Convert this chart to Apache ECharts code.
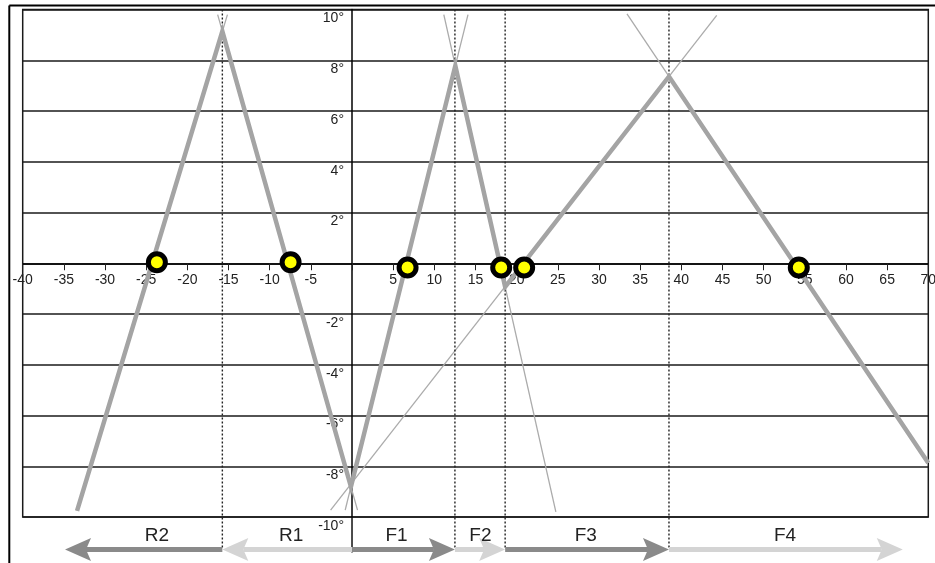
<!DOCTYPE html>
<html>
<head>
<meta charset="utf-8">
<script src="https://cdn.jsdelivr.net/npm/echarts@6/dist/echarts.min.js"></script>
<style>
  html, body { margin: 0; padding: 0; background: #fff; }
  #chart { width: 935px; height: 563px; }
</style>
</head>
<body>
<div id="chart"></div>
<script>
// Thick trace: the followed ray path through each zone (x, angle in degrees)
const pathPoints = [
  [-33.4, -9.76], [-15.75, 9.14], [-0.13, -8.81], [12.55, 7.78],
  [18.6, -0.93], [38.5, 7.36], [70, -7.87]
];
// Thin guide lines: the full straight lines the trace segments lie on
const thinLines = [
  [[-33.4, -9.76], [-15.13, 9.8]],
  [[-16.32, 9.8], [0.67, -9.73]],
  [[-0.83, -9.73], [14.09, 9.8]],
  [[11.15, 9.8], [24.76, -9.8]],
  [[-2.6, -9.73], [44.3, 9.77]],
  [[33.4, 9.83], [70, -7.87]]
];
// Zero crossings marked with yellow dots
const crossings = [
  [-23.7, 0.04], [-7.46, 0.04], [6.75, -0.17],
  [18.12, -0.17], [20.91, -0.17], [54.27, -0.17]
];
// Zone boundaries (dotted verticals)
const boundaries = [-15.75, 12.5, 18.6, 38.5];
// Zone arrows along the bottom
const zoneNames = ['R2', 'R1', 'F1', 'F2', 'F3', 'F4'];
const zoneFrom = [-15.75, 0, 0, 12.5, 18.6, 38.5];
const zoneTo = [-34.86, -15.75, 12.5, 18.6, 38.5, 66.9];
const zoneLabelAt = [-23.7, -7.4, 5.4, 15.6, 28.4, 52.6];
const zoneShade = ['dark', 'light', 'dark', 'light', 'dark', 'light'];

const X_MIN = -40, X_MAX = 70, X_STEP = 5;
const Y_MIN = -10, Y_MAX = 10, Y_STEP = 2;
const ARROW_Y = -11.28, LABEL_Y = -10.72, BELOW_Y = -11.25, AXIS_EXT_Y = -11.4;

const FONT = '"Liberation Sans", Arial, sans-serif';
const INK = '#1a1a1a';
const shadeColor = { dark: '#8a8a8a', light: '#d4d4d4' };

// plot box
const W = 935, H = 563;
const G = { left: 22.7, right: 6.7, top: 9.5, bottom: 46 };
const plotW = W - G.left - G.right, plotH = H - G.top - G.bottom;
// shift the axes from the box edges onto the zero lines
const xAxisShift = -plotH * (0 - Y_MIN) / (Y_MAX - Y_MIN);
const yAxisShift = -plotW * (0 - X_MIN) / (X_MAX - X_MIN);

const chart = echarts.init(document.getElementById('chart'), null, { renderer: 'canvas', width: W, height: H });

const series = [];

// thin guide lines
thinLines.forEach(function (seg, i) {
  series.push({
    name: 'guide' + i, type: 'line', data: seg, symbol: 'none', silent: true,
    lineStyle: { color: '#ababab', width: 1.3 }, z: 2
  });
});

// dotted zone boundaries, running down through the arrow row
boundaries.forEach(function (x, i) {
  series.push({
    name: 'boundary' + i, type: 'line', data: [[x, Y_MAX], [x, BELOW_Y]], symbol: 'none',
    silent: true, clip: false,
    lineStyle: { color: '#222', width: 1.4, type: [2, 2] }, z: 3
  });
});

// vertical axis carried down into the arrow row
series.push({
  name: 'axisExt', type: 'line', data: [[0, Y_MIN], [0, AXIS_EXT_Y]], symbol: 'none',
  silent: true, clip: false, lineStyle: { color: '#111', width: 1.5 }, z: 3
});

// thick trace
series.push({
  name: 'trace', type: 'line', data: pathPoints, symbol: 'none', silent: true,
  lineStyle: { color: '#a4a4a4', width: 4.5, join: 'miter' }, z: 4
});

// zero crossings
series.push({
  name: 'crossings', type: 'scatter', data: crossings, symbol: 'circle', symbolSize: 17,
  itemStyle: { color: '#ffff00', borderColor: '#000', borderWidth: 5, opacity: 1 }, z: 6
});

// zone arrows with their names
series.push({
  name: 'zones', type: 'custom', clip: false, silent: true, z: 5,
  data: zoneFrom.map(function (f, i) { return [f, zoneTo[i], zoneLabelAt[i], i]; }),
  renderItem: function (params, api) {
    const i = api.value(3);
    const a = api.coord([api.value(0), ARROW_Y]);
    const b = api.coord([api.value(1), ARROW_Y]);
    const t = api.coord([api.value(2), LABEL_Y]);
    const dir = b[0] > a[0] ? 1 : -1;
    const L = 26, HH = 23, notch = 5;
    const color = shadeColor[zoneShade[i]];
    return {
      type: 'group',
      children: [
        { type: 'line',
          shape: { x1: a[0], y1: a[1], x2: b[0] - dir * (L - notch), y2: b[1] },
          style: { stroke: color, lineWidth: 5 } },
        { type: 'polygon',
          shape: { points: [[b[0], b[1]], [b[0] - dir * L, b[1] - HH / 2],
                            [b[0] - dir * (L - notch), b[1]], [b[0] - dir * L, b[1] + HH / 2]] },
          style: { fill: color } },
        { type: 'text',
          style: { text: zoneNames[i], x: t[0], y: t[1], align: 'center', verticalAlign: 'middle',
                   fontSize: 19, fontFamily: FONT, fill: '#222' } }
      ]
    };
  }
});

chart.setOption({
  animation: false,
  backgroundColor: '#fff',
  grid: {
    left: G.left, right: G.right, top: G.top, bottom: G.bottom,
    containLabel: false, outerBoundsMode: 'none',
    show: true, borderColor: INK, borderWidth: 1.5, backgroundColor: 'transparent'
  },
  xAxis: {
    type: 'value', min: X_MIN, max: X_MAX, interval: X_STEP,
    position: 'bottom', offset: xAxisShift,
    axisLine: { onZero: false, lineStyle: { color: '#000', width: 1.5 } },
    axisTick: { show: true, length: 7, lineStyle: { color: '#222', width: 1 } },
    axisLabel: {
      margin: 10, fontSize: 14, fontFamily: FONT, color: '#222', showMinLabel: true, showMaxLabel: true,
      hideOverlap: false,
      formatter: function (v) { return v === 0 ? '' : String(v); }
    },
    splitLine: { show: false }
  },
  yAxis: {
    type: 'value', min: Y_MIN, max: Y_MAX, interval: Y_STEP,
    position: 'left', offset: yAxisShift,
    axisLine: { onZero: false, lineStyle: { color: '#000', width: 1.5 } },
    axisTick: { show: false },
    axisLabel: {
      margin: 8, fontSize: 14, fontFamily: FONT, color: '#222', verticalAlign: 'top', padding: [2, 0, 0, 0],
      hideOverlap: false,
      formatter: function (v) { return v === 0 ? '' : v + '°'; }
    },
    splitLine: { show: true, lineStyle: { color: INK, width: 1.5 } }
  },
  graphic: [
    { type: 'line', shape: { x1: 9.3, y1: 5.5, x2: 935, y2: 5.5 }, style: { stroke: '#000', lineWidth: 2 }, silent: true },
    { type: 'line', shape: { x1: 9.3, y1: 5.5, x2: 9.3, y2: 563 }, style: { stroke: '#000', lineWidth: 2 }, silent: true }
  ],
  series: series
});
</script>
</body>
</html>
